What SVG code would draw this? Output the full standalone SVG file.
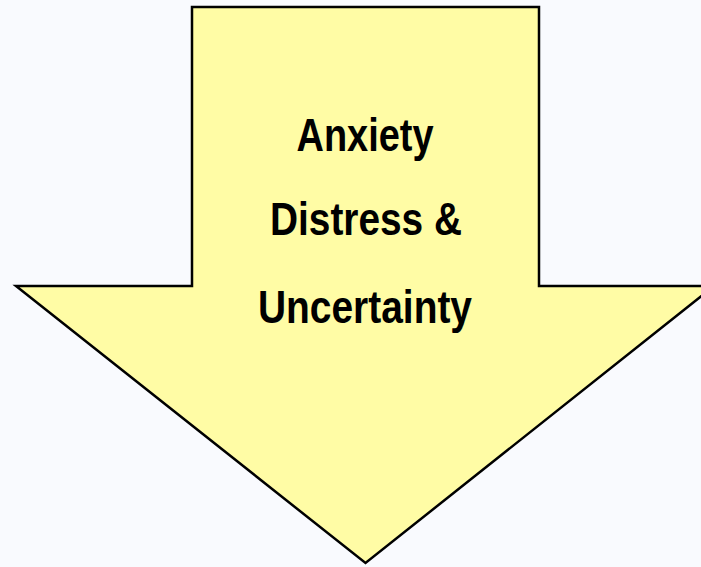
<svg xmlns="http://www.w3.org/2000/svg" width="701" height="567" viewBox="0 0 701 567">
<style>
.lbl{font-family:"Liberation Sans",Arial,sans-serif;font-weight:bold;font-size:46px;fill:#000;text-anchor:middle}
</style>
<rect x="0" y="0" width="701" height="567" fill="#F9FAFE"/>
<g id="arrow">
<polygon points="192,7 539,7 539,286 714,286 365.5,563 16,286 192,286" fill="#FFFCA5" stroke="#000" stroke-width="2.5" stroke-linejoin="miter"/>
<text class="lbl" x="365" y="151" textLength="137" lengthAdjust="spacingAndGlyphs">Anxiety</text>
<text class="lbl" x="366" y="235" textLength="192" lengthAdjust="spacingAndGlyphs">Distress &amp;</text>
<text class="lbl" x="365" y="323" textLength="214" lengthAdjust="spacingAndGlyphs">Uncertainty</text>
</g>
</svg>
